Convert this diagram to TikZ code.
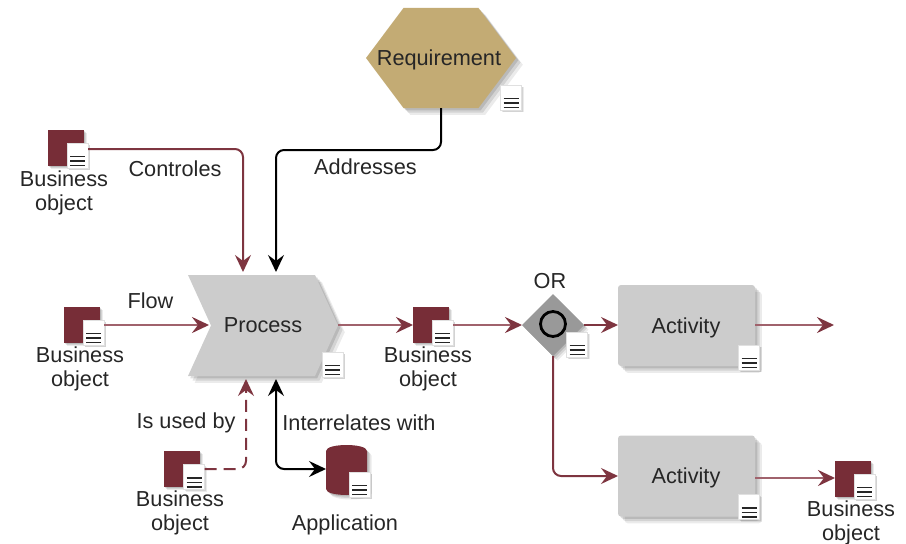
\documentclass[tikz,border=0pt]{standalone}
\usepackage{fontspec}
\setmainfont{Liberation Sans}
\usepackage{xcolor}
\usepackage{tikz}
\usetikzlibrary{arrows.meta,calc,shadows,shapes.geometric,shapes.symbols}
\definecolor{objred}{HTML}{772D37}
\definecolor{linkred}{HTML}{7E3540}
\definecolor{flowred}{HTML}{A0626C}
\definecolor{reqtan}{HTML}{C3AB74}
\definecolor{stepgray}{HTML}{CCCCCC}
\definecolor{gategray}{HTML}{999999}
\tikzset{
	softshadow/.style={general shadow={shadow xshift=#1*1.5pt,shadow yshift=-#1*1.5pt,fill=black,opacity=.08},general shadow={shadow xshift=#1*1pt,shadow yshift=-#1*1pt,fill=black,opacity=.1},general shadow={shadow xshift=#1*.5pt,shadow yshift=-#1*.5pt,fill=black,opacity=.12}},
	txt/.style={font=\fontsize{21.7}{24}\selectfont,text=black!85,align=center,inner sep=0pt},
	reqshape/.style={regular polygon,regular polygon sides=6,fill=reqtan,minimum size=150pt,inner sep=0pt,outer sep=0pt,softshadow=4.5,transform shape,yscale=.77},
	procshape/.style={signal,signal to=east,signal from=west,signal pointer angle=131,fill=stepgray,minimum width=150pt,minimum height=101pt,inner sep=0pt,outer sep=0pt,softshadow=4.5,txt},
	actbox/.style={rectangle,rounded corners=3pt,fill=stepgray,minimum width=137pt,minimum height=81pt,inner sep=0pt,outer sep=0pt,softshadow=4.5},
	objbox/.style={rectangle,fill=objred,minimum size=36pt,inner sep=0pt,outer sep=0pt,softshadow=2},
	appbox/.style={rectangle,minimum width=41pt,minimum height=50pt,inner sep=0pt,outer sep=0pt},
	gateshape/.style={diamond,fill=gategray,minimum width=62pt,minimum height=62pt,inner sep=0pt,outer sep=0pt,softshadow=3},
	gatering/.style={circle,draw=black,line width=2.8pt,minimum size=25pt,inner sep=0pt},
	docbox/.style={rectangle,draw=black!12,line width=1pt,fill=white,minimum width=21pt,minimum height=25pt,inner sep=0pt,outer sep=0pt,softshadow=1.5,path picture={
		\foreach \dy in {1,5.5,10}
			\draw[black!85,line width=1.6pt] ($(path picture bounding box.center)+(-7.5,\dy)$) -- ++(15,0);
	}},
	tip/.style={-{Stealth[length=17pt,width=16pt,inset=6pt,color=linkred]}},
	ctrl/.style={tip,draw=linkred,line width=2pt,rounded corners=8pt},
	flow/.style={tip,draw=flowred,line width=2.8pt},
	bklink/.style={-{Stealth[length=17pt,width=16pt,inset=6pt]},draw=black,line width=2pt,rounded corners=8pt}
}
\begin{document}
\begin{tikzpicture}[x=1pt,y=-1pt]
	\useasboundingbox (0,0) rectangle (906,544);
	\node[reqshape] (req) at (441,58) {};
	\node[procshape] (proc) at (263,325.5) {Process};
	\node[actbox] (act1) at (686.5,325.5) {};
	\node[actbox] (act2) at (686.5,476) {};
	\node[objbox] (obj1) at (66,148) {};
	\node[objbox] (obj2) at (82,325) {};
	\node[objbox] (obj3) at (431,325) {};
	\node[objbox] (obj4) at (182,469) {};
	\node[objbox] (obj5) at (853,479) {};
	\node[appbox] (app) at (346.5,470) {};
	\fill[objred,softshadow=3] (app.north west) ++(0,6) .. controls ++(0,-8) and ($(app.north east)+(0,-2)$) .. ($(app.north east)+(0,6)$) -- ($(app.south east)+(0,-6)$) .. controls ($(app.south east)+(0,2)$) and ($(app.south west)+(0,2)$) .. ($(app.south west)+(0,-6)$) -- cycle;
	\node[gateshape] (gate) at (553,325) {};
	\node[gatering] (ring) at (553,324) {};
	\foreach \name/\x/\y in {req/511/97.5,proc/332.5/364.5,act1/749/357.5,act2/749/507,obj1/77.5/155.5,obj2/93.5/332.5,obj3/442.5/332.5,obj4/194/477,obj5/864.5/486.5,app/359.5/484.5,gate/577/344.5}
		\node[docbox] (doc\name) at (\x,\y) {};
	\node[txt] (reqtxt) at (439,60) {Requirement};
	\node[txt] (act1txt) at (686,328) {Activity};
	\node[txt] (act2txt) at (686,478) {Activity};
	\node[txt] (obj1txt) at (64,193) {Business\\object};
	\node[txt] (obj2txt) at (80,369) {Business\\object};
	\node[txt] (obj3txt) at (428,369) {Business\\object};
	\node[txt] (obj4txt) at (180,513) {Business\\object};
	\node[txt] (obj5txt) at (851,523) {Business\\object};
	\node[txt] (apptxt) at (345,524.5) {Application};
	\node[txt] (gatetxt) at (550,281) {OR};
	\node[txt] (ctrltxt) at (175,169) {Controles};
	\node[txt] (addrtxt) at (365.5,167) {Addresses};
	\node[txt] (flowtxt) at (150.5,301) {Flow};
	\node[txt] (usedtxt) at (186,423) {Is used by};
	\node[txt] (intertxt) at (359,423) {Interrelates with};
	\coordinate (freeend) at (834,325);
	\draw[ctrl] (docobj1.east |- 0,149) -| ([xshift=-20pt,yshift=3pt]proc.north);
	\draw[bklink] (req.south) -- ++(0,42) -| ([xshift=13pt,yshift=3pt]proc.north);
	\draw[flow] (docobj2.east |- 0,325) -- ([xshift=-54pt]proc.center |- 0,325);
	\draw[flow] (proc.east |- 0,325) -- (obj3.west |- 0,325);
	\draw[flow] (docobj3.east |- 0,325) -- (gate.west |- 0,325);
	\draw[ctrl] (gate.east |- 0,325) -- (act1.west |- 0,325);
	\draw[flow] (act1.east |- 0,325) -- (freeend);
	\draw[ctrl] (gate.south) |- (act2.west);
	\draw[flow] (act2.east |- 0,478) -- (obj5.west |- 0,478);
	\draw[ctrl,dash pattern=on 12pt off 7pt] (docobj4.east |- 0,469) -| ([xshift=-17pt,yshift=-3pt]proc.south);
	\draw[bklink,{Stealth[length=17pt,width=16pt,inset=6pt]}-{Stealth[length=17pt,width=16pt,inset=6pt]}] ([xshift=13pt,yshift=-3pt]proc.south) |- (app.west |- 0,469);
\end{tikzpicture}
\end{document}
